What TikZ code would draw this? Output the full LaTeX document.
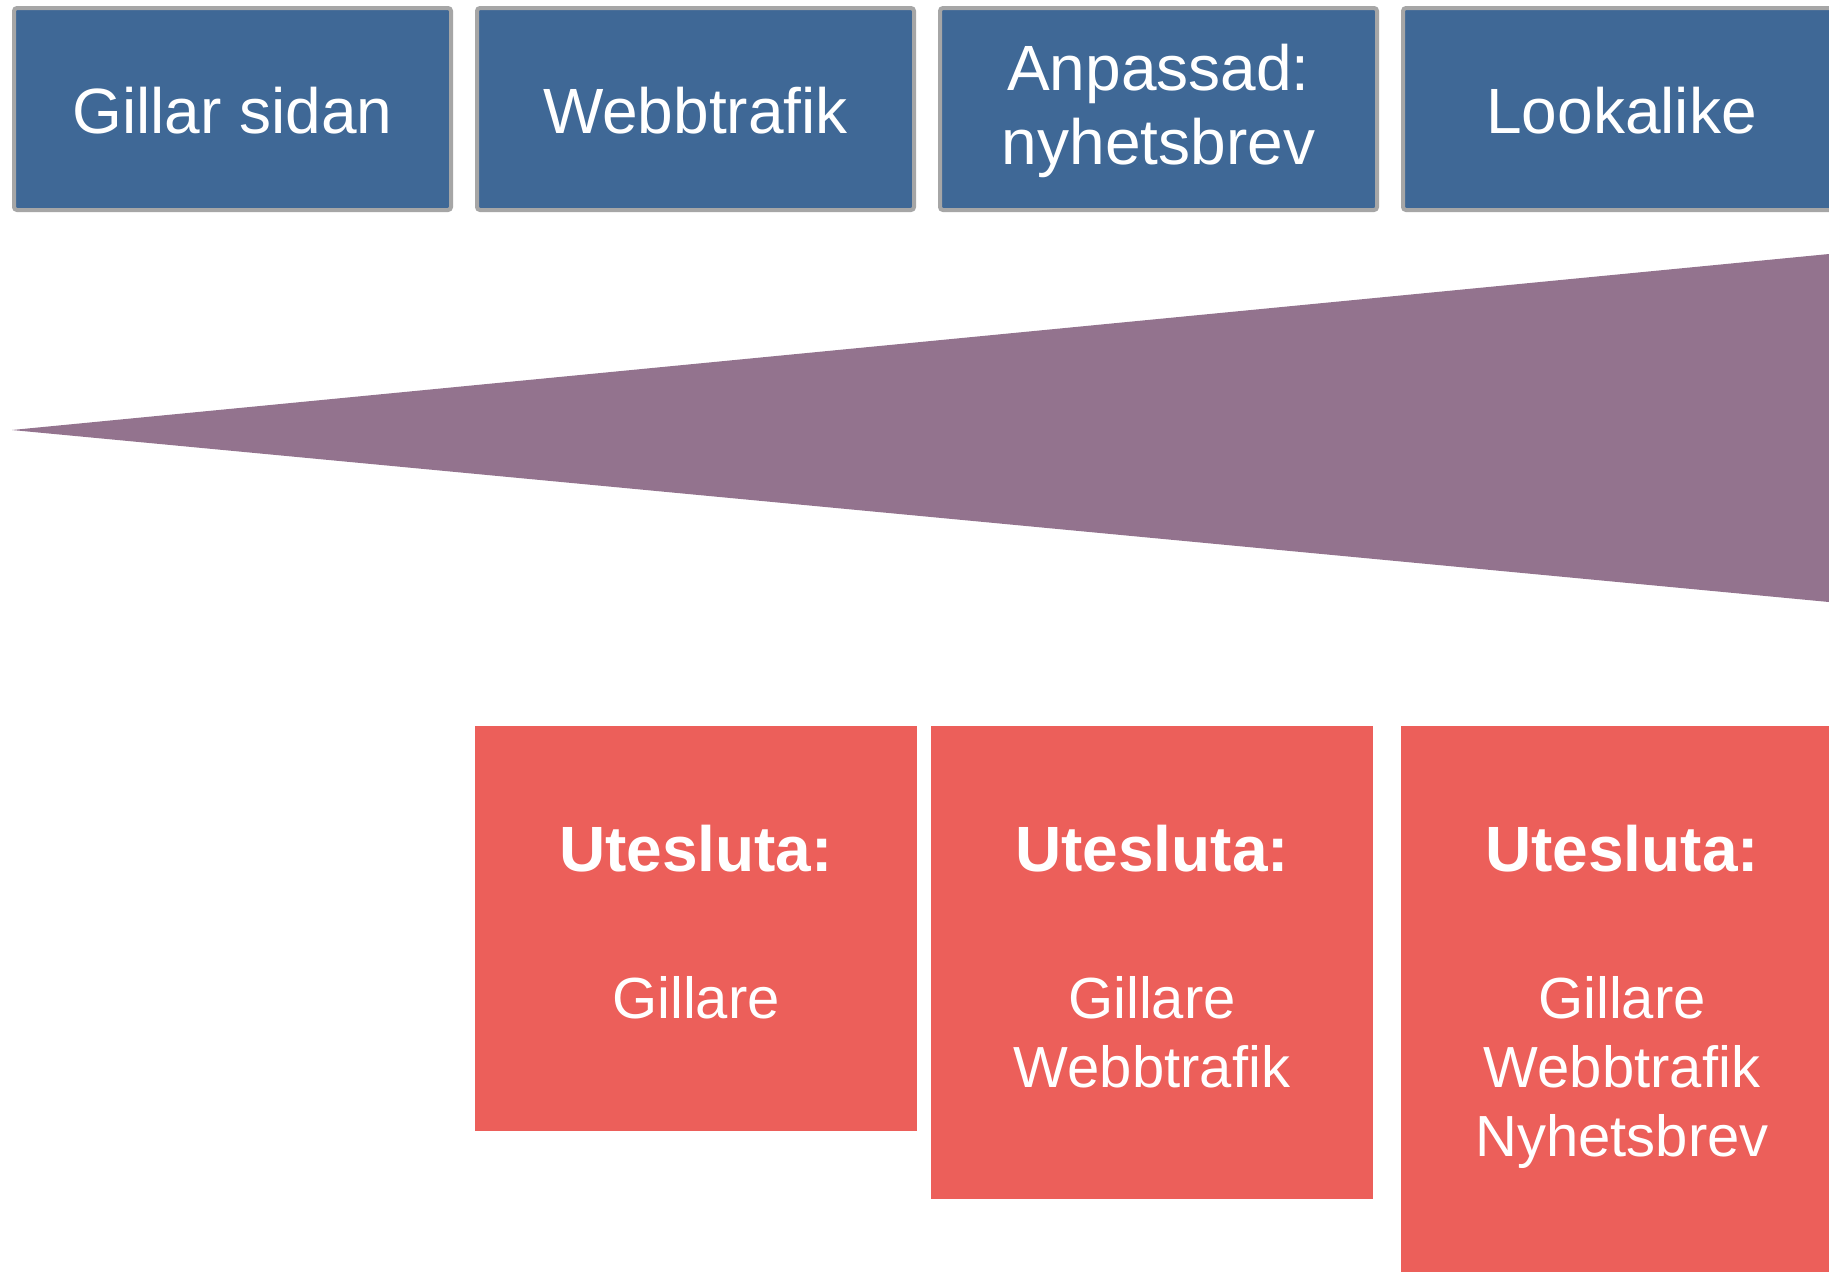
\documentclass[tikz,border=0pt]{standalone}
\usepackage{fontspec}
\setmainfont{Liberation Sans}
\definecolor{boxblue}{HTML}{3F6896}
\definecolor{boxgray}{HTML}{A6A6A6}
\definecolor{wedge}{HTML}{93738E}
\definecolor{exred}{HTML}{EC5F5A}
\begin{document}
\begin{tikzpicture}[x=0.5pt,y=-0.5pt,
  bluebox/.style={draw=boxgray, line width=2pt, fill=boxblue, rounded corners=1.5pt,
    inner sep=0pt, minimum width=218.5pt, minimum height=101pt},
  redbox/.style={fill=exred, inner sep=0pt, minimum width=221pt},
  toptxt/.style={text=white, font=\fontsize{32}{37}\selectfont, anchor=base, inner sep=0pt},
  headtxt/.style={text=white, font=\bfseries\fontsize{32}{37}\selectfont, anchor=base, inner sep=0pt},
  bodytxt/.style={text=white, font=\fontsize{29}{34}\selectfont, anchor=base, inner sep=0pt}]
\useasboundingbox (0,0) rectangle (1829,1271);
\clip (0,0) rectangle (1829,1271);
\fill[white] (0,0) rectangle (1829,1271);

% top boxes
\node[bluebox] (b1) at (232.5,109) {};
\node[bluebox] (b2) at (695.5,109) {};
\node[bluebox] (b3) at (1158.5,109) {};
\node[bluebox] (b4) at (1621.5,109) {};
\node[toptxt] (t1) at (232.5,133) {Gillar sidan};
\node[toptxt] (t2) at (695.5,133) {Webbtrafik};
\node[toptxt] (t3a) at (1158.5,90.5) {Anpassad:};
\node[toptxt] (t3b) at (1158.5,164) {nyhetsbrev};
\node[toptxt] (t4) at (1621.5,133) {Lookalike};

% wedge
\coordinate (apex) at (12,430);
\coordinate (wtop) at (1829,254);
\coordinate (wbot) at (1829,602);
\fill[wedge] (apex) -- (wtop) -- (wbot) -- cycle;

% exclusion boxes
\node[redbox, minimum height=202.5pt] (r1) at (696,928) {};
\node[redbox, minimum height=236.5pt] (r2) at (1152,962.5) {};
\node[redbox, minimum height=290pt] (r3) at (1622,1016) {};

\node[headtxt] (h1) at (696,871.5) {Utesluta:};
\node[headtxt] (h2) at (1152,871.5) {Utesluta:};
\node[headtxt] (h3) at (1622,871.5) {Utesluta:};

\node[bodytxt] (g1) at (696,1018.5) {Gillare};
\node[bodytxt] (g2) at (1152,1018.5) {Gillare};
\node[bodytxt] (w2) at (1152,1087.5) {Webbtrafik};
\node[bodytxt] (g3) at (1622,1018.5) {Gillare};
\node[bodytxt] (w3) at (1622,1087.5) {Webbtrafik};
\node[bodytxt] (n3) at (1622,1156) {Nyhetsbrev};
\end{tikzpicture}
\end{document}
